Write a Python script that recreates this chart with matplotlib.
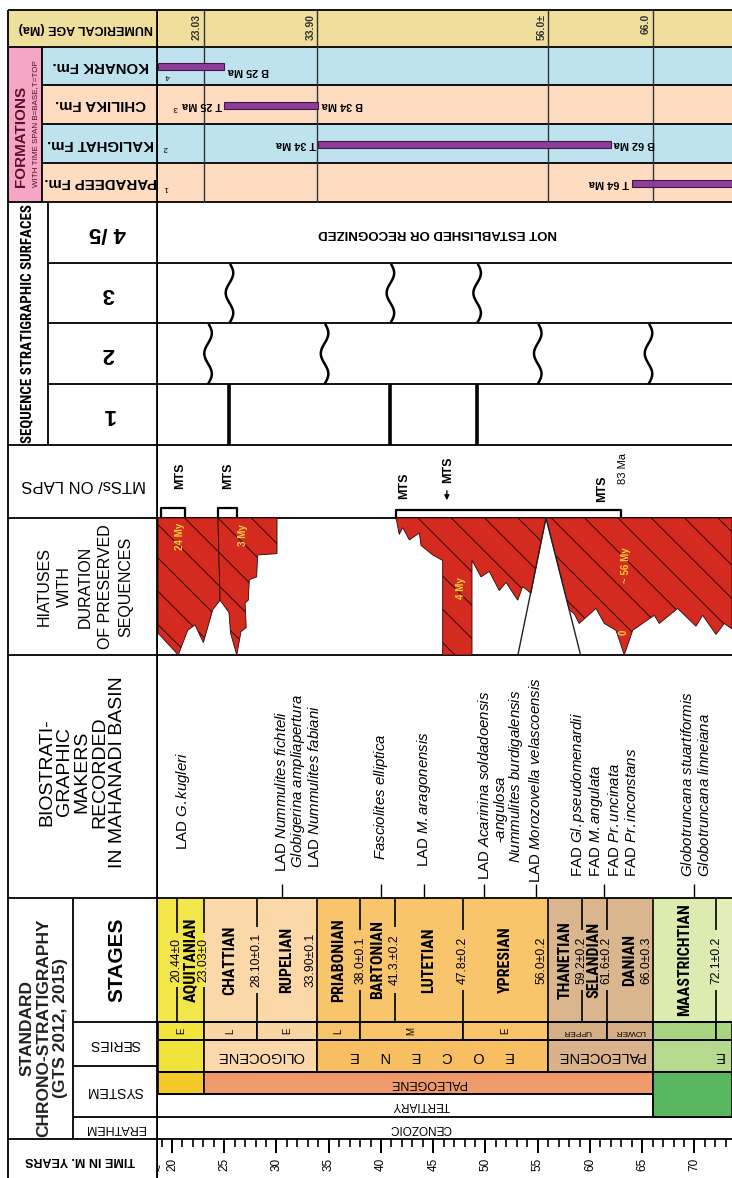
import numpy as np
import matplotlib
matplotlib.use('Agg')
import matplotlib.pyplot as plt
from matplotlib.patches import Polygon, Rectangle
from matplotlib import font_manager

plt.rcParams['font.family'] = ['Liberation Sans', 'DejaVu Sans']
plt.rcParams['mathtext.fontset'] = 'custom'
plt.rcParams['mathtext.rm'] = 'Liberation Sans'
plt.rcParams['mathtext.it'] = 'Liberation Sans:italic'
plt.rcParams['hatch.linewidth'] = 0.7


def pick_condensed():
    fonts = font_manager.fontManager.ttflist
    for name in ('Liberation Sans Narrow', 'Roboto Condensed', 'Open Sans Condensed'):
        if any(f.name == name for f in fonts):
            return dict(family=name), 1.0
    if any(f.name == 'DejaVu Sans' and 'condensed' in str(f.stretch) for f in fonts):
        return dict(family='DejaVu Sans', fontstretch='condensed'), 0.95
    return dict(family='Liberation Sans'), 0.87


COND, CSCALE = pick_condensed()

W, H = 732, 1178
HEAD_W = 158

# ---------------- data ----------------
T_LEFT, T_RIGHT = 18.66, 73.59      # ages (Ma) at the two chart edges

num_ages = [23.03, 33.90, 56.0, 66.0]
num_age_labels = ['23.03', '33.90', '56.0±', '66.0']

formations = ['KONARK Fm.', 'CHILIKA Fm.', 'KALIGHAT Fm.', 'PARADEEP Fm.']
formation_no = ['4', '3', '2', '1']
formation_top = [None, 25, 34, 64]
formation_base = [25, 34, 62, None]

# sequence stratigraphic surfaces
surf3_ages = [25.5, 40.9, 49.2]
surf2_ages = [23.45, 34.6, 55.0, 65.6]
surf1_ages = [25.5, 40.9, 49.2]

# maximum transgressive surfaces
mts_ages = [20.8, 25.4, 42.2, 46.4, 61.2]
mts_brackets = [(18.9, 21.2), (24.4, 26.2), (41.4, 63.0)]

# hiatuses: (age, depth as fraction of the panel)
hiatus_a = [(T_LEFT, 0), (24.4, 0), (24.6, 0.60), (23.9, 0.67), (23.0, 0.91),
            (22.2, 0.78), (21.5, 0.82), (20.6, 1.0), (T_LEFT, 0.84)]
hiatus_b = [(24.4, 0), (30.05, 0), (30.05, 0.26), (28.2, 0.27), (28.1, 0.43),
            (27.4, 0.45), (27.3, 0.60), (27.0, 0.62), (27.1, 0.80), (26.6, 0.83),
            (26.2, 1.0), (25.6, 0.84), (25.45, 0.69), (24.6, 0.60)]
hiatus_c = [(55.79, 0), (54.35, 0.55), (53.56, 0.50), (53.08, 0.60), (51.96, 0.47),
            (51.32, 0.53), (50.36, 0.39), (49.57, 0.43), (48.71, 0.31), (48.71, 1.0),
            (45.9, 1.0), (45.9, 0.31), (44.95, 0.27), (43.83, 0.20), (43.67, 0.11),
            (42.71, 0.16), (42.08, 0.07), (41.75, 0.12), (41.44, 0)]
hiatus_d = [(55.79, 0), (T_RIGHT, 0), (T_RIGHT, 0.81), (72.85, 0.77), (72.06, 0.85),
            (70.78, 0.71), (70.14, 0.79), (68.39, 0.66), (66.63, 0.77), (66.15, 0.71),
            (64.09, 0.82), (63.28, 1.0), (62.49, 0.82), (61.37, 0.77), (60.57, 0.66),
            (58.97, 0.77), (58.5, 0.70), (58.02, 0.67)]
wedge_feet = [53.1, 59.1]
hiatus_labels = ['24 My', '3 My', '4 My', '~ 56 My', '0']
hiatus_label_ages = [20.8, 26.8, 47.7, 63.4, 63.2]

# biostratigraphic markers: prefix, italic taxon, age
bio_prefix = ['LAD ', 'LAD ', '', 'LAD ', '', 'LAD ', 'LAD ', '-', '', 'LAD ',
              'FAD ', 'FAD ', 'FAD ', 'FAD ', '', '']
bio_taxon = ['G.kugleri', 'Nummulites fichteli', 'Globigerina ampliapertura',
             'Nummulites fabiani', 'Fasciolites elliptica', 'M.aragonensis',
             'Acarinina soldadoensis', 'angulosa', 'Nummulites burdigalensis',
             'Morozovella velascoensis', 'Gl.pseudomenardii', 'M.angulata',
             'Pr.uncinata', 'Pr.inconstans', 'Globotruncana stuartiformis',
             'Globotruncana linneiana']
bio_ages = [21.05, 30.5, 32.1, 33.6, 40.0, 44.1, 49.9, 51.45, 52.95, 54.8,
            58.85, 60.6, 62.3, 64.0, 69.3, 71.0]
bio_leaders = [30.5, 40.0, 44.1, 49.9, 54.8, 61.3, 70.0]

# chronostratigraphy
stage_names = ['', 'AQUITANIAN', 'CHATTIAN', 'RUPELIAN', 'PRIABONIAN', 'BARTONIAN',
               'LUTETIAN', 'YPRESIAN', 'THANETIAN', 'SELANDIAN', 'DANIAN',
               'MAASTRICHTIAN', '']
stage_base = [20.44, 23.03, 28.10, 33.90, 38.0, 41.3, 47.8, 56.0, 59.2, 61.6,
              66.0, 72.1, T_RIGHT]
stage_colors = ['#f3e64a', '#f3e64a', '#fad8a8', '#fad8a8', '#f8c46c', '#f8c46c',
                '#f8c46c', '#f8c46c', '#d9b68e', '#d9b68e', '#d9b68e', '#dcebb0',
                '#e1eeb8']
boundary_labels = ['20.44±0', '23.03±0', '28.10±0.1', '33.90±0.1', '38.0±0.1',
                   '41.3.±0.2', '47.8±0.2', '56.0±0.2', '59.2±0.2', '61.6±0.2',
                   '66.0±0.3', '72.1±0.2']
boundary_side = [0, 0, 0, -1, 0, 0, 0, -1, 0, 0, -1, 0]

subseries_base = [23.03, 28.10, 33.90, 38.0, 47.8, 56.0, 61.6, 66.0, 72.1, T_RIGHT]
subseries_labels = ['E', 'L', 'E', 'L', 'M', 'E', 'UPPER', 'LOWER', '', '']
subseries_colors = ['#f2e43c', '#f9d5a4', '#f9d5a4', '#f8c36a', '#f8c36a', '#f8c36a',
                    '#d5ae84', '#d5ae84', '#a9d47f', '#a9d47f']

epoch_base = [23.03, 33.90, 56.0, 66.0, T_RIGHT]
epoch_labels = ['', 'OLIGOCENE', 'E     O     C     E     N     E', 'PALEOCENE', 'E']
epoch_colors = ['#f2e33a', '#fbd8aa', '#f7bf62', '#d9b18a', '#b5da8e']

system_base = [23.03, 66.0, T_RIGHT]
system_labels = ['', 'PALEOGENE', '']
system_colors = ['#f5c928', '#ee9a6b', '#57b65e']

# ---------------- layout (rows, measured from the top) ----------------
ROW_AGE = (10, 47)
ROW_FM = [(47, 85), (85, 124), (124, 163), (163, 202)]
ROW_SEQ = [(202, 263), (263, 323), (323, 384), (384, 445)]
ROW_MTS = (445, 518)
ROW_HIA = (518, 655)
ROW_BIO = (655, 898)
ROW_STAGE = (898, 1022)
ROW_SUB = (1022, 1040)
ROW_EPOCH = (1040, 1072)
ROW_SYS = (1072, 1094)
ROW_TERT = (1094, 1117)
ROW_ERA = (1117, 1139)
ROW_TIME = (1139, 1178)

KHAKI = '#efde9c'
BLUE = '#bee3ef'
PEACH = '#fddcc1'
PINK = '#f4a6c4'
PURPLE = '#8e3d98'
RED = '#d52a1f'
LW = 1.3

fig = plt.figure(figsize=(W / 100, H / 100), dpi=100)
hx = fig.add_axes([0, 0, HEAD_W / W, 1])
hx.set_xlim(0, HEAD_W)
hx.set_ylim(H, 0)
hx.axis('off')
ax = fig.add_axes([HEAD_W / W, 0, 1 - HEAD_W / W, 1])
ax.set_xlim(T_LEFT, T_RIGHT)
ax.set_ylim(H, 0)
ax.axis('off')
renderer = fig.canvas.get_renderer()


def box(axis, x0, x1, rows, color, edge='none', lw=0):
    y0, y1 = rows
    axis.add_patch(Rectangle((x0, y0), x1 - x0, y1 - y0, facecolor=color,
                             edgecolor=edge, lw=lw, zorder=0))


def mid(rows):
    return 0.5 * (rows[0] + rows[1])


def fit_length(txt, max_px):
    # shrink a rotated label until its long side fits max_px
    bb = txt.get_window_extent(renderer)
    span = max(bb.width, bb.height)
    if span > max_px:
        txt.set_fontsize(txt.get_fontsize() * max_px / span)


# ---- backgrounds ----
box(hx, 8, HEAD_W, ROW_AGE, KHAKI)
box(ax, T_LEFT, T_RIGHT, ROW_AGE, KHAKI)
box(hx, 8, 42, (ROW_FM[0][0], ROW_FM[-1][1]), PINK)
for i, rows in enumerate(ROW_FM):
    c = BLUE if i % 2 == 0 else PEACH
    box(hx, 42, HEAD_W, rows, c)
    box(ax, T_LEFT, T_RIGHT, rows, c)

# ---- grid lines ----
full_rows = [10, 47, 85, 124, 163, 202, 263, 323, 384, 445, 518, 655, 898, 1139]
ax.hlines(full_rows, T_LEFT, T_RIGHT, color='k', lw=LW)
hx.hlines([10, 47, 202, 445, 518, 655, 898, 1139], 8, HEAD_W, color='k', lw=LW)
hx.hlines([85, 124, 163], 42, HEAD_W, color='k', lw=LW)
hx.hlines([263, 323, 384], 48, HEAD_W, color='k', lw=LW)
hx.hlines([1022, 1066, 1117], 73, HEAD_W, color='k', lw=LW)
ax.hlines([1022, 1040, 1072, 1117], T_LEFT, T_RIGHT, color='k', lw=LW)
ax.hlines(1094, T_LEFT, 66.0, color='k', lw=LW)
hx.vlines(8, 10, H, color='k', lw=LW)
hx.vlines(HEAD_W - 0.8, 10, H, color='k', lw=2)
hx.vlines(42, 47, 202, color='k', lw=LW)
hx.vlines(48, 202, 445, color='k', lw=LW)
hx.vlines(73, 898, 1139, color='k', lw=LW)

# ---- numerical ages ----
ax.vlines(num_ages, ROW_AGE[0], ROW_FM[-1][1], color='#333333', lw=1)
for a, lab in zip(num_ages, num_age_labels):
    ax.text(a - 0.15, 14, lab, rotation=90, rotation_mode='anchor', ha='right',
            va='bottom', fontsize=7.5, fontweight='bold', color='#333333')

# ---- formations ----
for i, rows in enumerate(ROW_FM):
    yc = mid(rows) + 0.5
    top = formation_top[i] if formation_top[i] is not None else T_LEFT
    base = formation_base[i] if formation_base[i] is not None else T_RIGHT + 1
    ax.add_patch(Rectangle((top, yc - 3.5), base - top, 7, facecolor=PURPLE,
                           edgecolor='#3d1a48', lw=0.8, zorder=3))
    if formation_top[i] is not None:
        ax.text(top - 0.25, yc, 'T %d Ma' % formation_top[i], rotation=180,
                ha='right', va='center', fontsize=7.8, fontweight='bold')
    if formation_base[i] is not None:
        dy = 5 if i == 0 else 0
        ax.text(base + 0.3, yc + dy, 'B %d Ma' % formation_base[i], rotation=180,
                ha='left', va='center', fontsize=7.8, fontweight='bold')
    hx.text(101, mid(rows), formations[i], rotation=180, ha='center',
            va='center', fontsize=10.8, fontweight='bold')
for n, a, y in zip(formation_no, [19.6, 20.3, 19.4, 19.4], [76, 108, 148, 187]):
    ax.text(a, y, n, rotation=180, ha='center', va='center', fontsize=6)

hx.text(86, mid(ROW_AGE), 'NUMERICAL AGE (Ma)', rotation=180, ha='center',
        va='center', fontsize=9, fontweight='bold')
hx.text(21, 136, 'FORMATIONS', rotation=90, ha='center', va='center',
        fontsize=11, fontweight='bold', color='#5e1028')
hx.text(36, 124, 'WITH TIME SPAN B=BASE,T=TOP', rotation=90, ha='center',
        va='center', fontsize=5.8, color='#5e1028')

# ---- sequence stratigraphic surfaces ----
seq_title = hx.text(27, 324, 'SEQUENCE STRATIGRAPHIC SURFACES', rotation=90,
                    ha='center', va='center', fontsize=11, fontweight='bold', **COND)
fit_length(seq_title, 238)
for lab, rows in zip(['4 /5', '3', '2', '1'], ROW_SEQ):
    hx.text(108, mid(rows), lab, rotation=180, ha='center', va='center',
            fontsize=16, fontweight='bold')
ax.text(45.4, mid(ROW_SEQ[0]), 'NOT ESTABLISHED OR RECOGNIZED', rotation=180,
        ha='center', va='center', fontsize=9.5, fontweight='bold')


def squiggle(age, rows):
    y0, y1 = rows
    yy = np.linspace(y0 + 2, y1 - 1, 90)
    xx = age + 0.36 * np.sin((yy - y0) / (y1 - y0) * 3 * np.pi)
    ax.plot(xx, yy, color='k', lw=1.8)


for a in surf3_ages:
    squiggle(a, ROW_SEQ[1])
for a in surf2_ages:
    squiggle(a, ROW_SEQ[2])
ax.vlines(surf1_ages, ROW_SEQ[3][0], ROW_SEQ[3][1], color='k', lw=2.6)

# ---- MTS / onlaps ----
hx.text(84, mid(ROW_MTS) + 3, 'MTSs/ ON LAPS', rotation=180, ha='center',
        va='center', fontsize=12)
for a, y in zip(mts_ages, [476, 476, 486, 470, 489]):
    ax.text(a, y, 'MTS', rotation=90, ha='center', va='center', fontsize=9,
            fontweight='bold')
ax.text(63.2, 468, '83 Ma', rotation=90, ha='center', va='center', fontsize=8)
ax.annotate('', xy=(46.3, 503), xytext=(46.3, 488),
            arrowprops=dict(arrowstyle='-|>', color='k', lw=1, mutation_scale=7))
for a0, a1 in mts_brackets:
    top = 508 if a1 < 30 else 510
    ax.plot([a0, a0, a1, a1], [ROW_MTS[1], top, top, ROW_MTS[1]], color='k', lw=1.6)

# ---- hiatuses ----
hy0, hy1 = ROW_HIA
for poly in [hiatus_a, hiatus_b, hiatus_c, hiatus_d]:
    pts = [(a, hy0 + f * (hy1 - hy0)) for a, f in poly]
    ax.add_patch(Polygon(pts, closed=True, facecolor=RED, edgecolor='#2a0a08',
                         lw=0.6, hatch='\\', zorder=2))
for foot in wedge_feet:
    ax.plot([hiatus_c[0][0], foot], [hy0, hy1], color='#222222', lw=1)
for lab, a, y in zip(hiatus_labels, hiatus_label_ages, [536, 535, 588, 565, 632]):
    ax.text(a, y, lab, rotation=90, ha='center', va='center', fontsize=7,
            fontweight='bold', color='#f6d23a', zorder=4)
hx.text(85, mid(ROW_HIA), 'HIATUSES\nWITH\nDURATION\nOF PRESERVED\nSEQUENCES',
        rotation=90, ha='center', va='center', fontsize=11.5, linespacing=1.45,
        multialignment='center')

# ---- biostratigraphic markers ----
hx.text(82, 772, 'BIOSTRATI-\nGRAPHIC\nMAKERS\nRECORDED\nIN MAHANADI BASIN',
        rotation=90, ha='center', va='center', fontsize=14, linespacing=1.05,
        multialignment='center')
bio_bottom = [850, 872, 868, 868, 860, 867, 880, 843, 863, 883,
              877, 877, 877, 877, 877, 877]
for pre, tax, a, y in zip(bio_prefix, bio_taxon, bio_ages, bio_bottom):
    s = pre + r'$\mathit{' + tax.replace(' ', r'\ ') + '}$'
    ax.text(a, y, s, rotation=90, rotation_mode='anchor', ha='left', va='center',
            fontsize=10.8)
ax.vlines(bio_leaders, 884, ROW_BIO[1], color='k', lw=1)

# ---- chronostratigraphic columns ----
lefts = [T_LEFT] + stage_base[:-1]
for x0, x1, c in zip(lefts, stage_base, stage_colors):
    box(ax, x0, x1, ROW_STAGE, c)
for x0, x1, name in zip(lefts, stage_base, stage_names):
    if name:
        t = ax.text(0.5 * (x0 + x1), 960, name, rotation=90, ha='center',
                    va='center', fontsize=11.5 * CSCALE, fontweight='bold', **COND)
        fit_length(t, 116)
STAGE_FS = 8.8
for a, lab, side in zip(stage_base[:-1], boundary_labels, boundary_side):
    half = len(lab) * 0.55 * STAGE_FS * 100 / 72 / 2 + 3
    if side == 0:
        ax.vlines(a, ROW_STAGE[0], 960 - half, color='k', lw=1.2)
        ax.vlines(a, 960 + half, ROW_STAGE[1], color='k', lw=1.2)
        x = a
    else:
        ax.vlines(a, ROW_STAGE[0], ROW_STAGE[1], color='k', lw=1.2)
        x = a - 0.65
    ax.text(x, 960, lab, rotation=90, ha='center', va='center', fontsize=STAGE_FS)

lefts = [T_LEFT] + subseries_base[:-1]
for x0, x1, c, lab in zip(lefts, subseries_base, subseries_colors, subseries_labels):
    box(ax, x0, x1, ROW_SUB, c, edge='k', lw=1.2)
    if lab in ('UPPER', 'LOWER'):
        ax.text(0.5 * (x0 + x1), mid(ROW_SUB), lab, rotation=180, ha='center',
                va='center', fontsize=6)
    elif lab:
        ax.text(0.5 * (x0 + x1), mid(ROW_SUB), lab, rotation=90, ha='center',
                va='center', fontsize=7)

lefts = [T_LEFT] + epoch_base[:-1]
for x0, x1, c, lab in zip(lefts, epoch_base, epoch_colors, epoch_labels):
    box(ax, x0, x1, ROW_EPOCH, c, edge='k', lw=1.2)
    if lab == 'E':
        ax.text(72.3, mid(ROW_EPOCH), lab, rotation=180, ha='center', va='center',
                fontsize=10.5)
    elif lab:
        ax.text(0.5 * (x0 + x1), mid(ROW_EPOCH), lab, rotation=180, ha='center',
                va='center', fontsize=10.5)

lefts = [T_LEFT] + system_base[:-1]
for x0, x1, c, lab in zip(lefts, system_base, system_colors, system_labels):
    rows = (ROW_SYS[0], ROW_TERT[1]) if x0 >= 66 else ROW_SYS
    box(ax, x0, x1, rows, c, edge='k', lw=1.2)
    if lab:
        ax.text(0.5 * (x0 + x1), mid(ROW_SYS), lab, rotation=180, ha='center',
                va='center', fontsize=9)
ax.vlines(66.0, ROW_TERT[0], ROW_TERT[1], color='k', lw=1.2)
ax.text(43.8, mid(ROW_TERT), 'TERTIARY', rotation=180, ha='center', va='center',
        fontsize=8.5)
ax.text(43.8, mid(ROW_ERA), 'CENOZOIC', rotation=180, ha='center', va='center',
        fontsize=8.5)

hx.text(44, 1028, 'STANDARD\nCHRONO-STRATIGRAPHY\n(GTS 2012, 2015)', rotation=90,
        ha='center', va='center', fontsize=12.5, fontweight='bold',
        multialignment='center', linespacing=1.15, color='#222222')
hx.text(117, mid(ROW_STAGE), 'STAGES', rotation=90, ha='center', va='center',
        fontsize=15, fontweight='bold')
hx.text(115, 1044, 'SERIES', rotation=180, ha='center', va='center', fontsize=10)
hx.text(115, 1091, 'SYSTEM', rotation=180, ha='center', va='center', fontsize=10)
hx.text(115, 1128, 'ERATHEM', rotation=180, ha='center', va='center', fontsize=9)

# ---- time scale ----
ticks = np.arange(19, 74)
major = ticks[ticks % 5 == 0]
minor = ticks[ticks % 5 != 0]
ax.vlines(minor, ROW_TIME[0], ROW_TIME[0] + 8, color='k', lw=1.2)
ax.vlines(major, ROW_TIME[0], ROW_TIME[0] + 14, color='k', lw=1.4)
for t in major:
    ax.text(t, 1164, str(t), rotation=90, ha='center', va='center', fontsize=8.5)
ax.text(18.95, 1167, '~', rotation=90, ha='center', va='center', fontsize=9)
hx.text(80, 1160, 'TIME IN M. YEARS', rotation=180, ha='center', va='center',
        fontsize=9, fontweight='bold')

fig.savefig('out.png', dpi=100)
